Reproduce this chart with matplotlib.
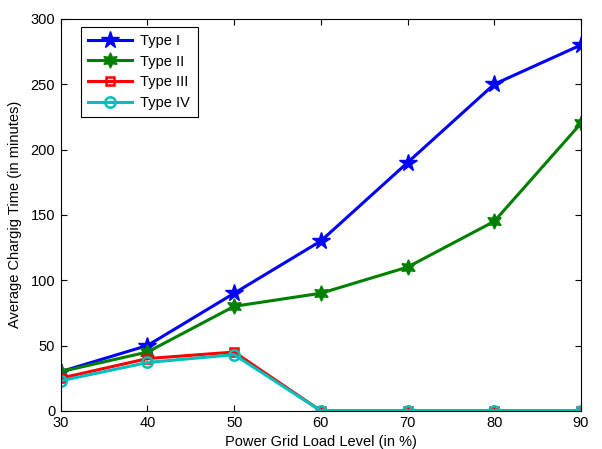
import numpy as np
import matplotlib.pyplot as plt

plt.rcParams["font.family"] = ["Liberation Sans", "DejaVu Sans"]
plt.rcParams["font.size"] = 10.5

load = [30, 40, 50, 60, 70, 80, 90]
type1 = [30, 50, 90, 130, 190, 250, 280]
type2 = [30, 45, 80, 90, 110, 145, 220]
type3 = [25, 40, 45, 0, 0, 0, 0]
type4 = [23, 37, 43, 0, 0, 0, 0]
labels = ["Type I", "Type II", "Type III", "Type IV"]

fig = plt.figure(figsize=(6.02, 4.49), dpi=100)
ax = fig.add_axes([0.101, 0.085, 0.864, 0.873])

ax.plot(load, type1, color=(0, 0, 1), lw=2.2, marker="*", ms=13,
        label=labels[0])
ax.plot(load, type2, color=(0, 0.5, 0), lw=2.2, marker=(6, 1, 0), ms=11,
        label=labels[1])
ax.plot(load, type3, color=(1, 0, 0), lw=2.2, marker="s", ms=6,
        mfc="none", mew=1.8, label=labels[2])
ax.plot(load, type4, color=(0, 0.75, 0.75), lw=2.2, marker="o", ms=7.5,
        mfc="none", mew=1.8, label=labels[3])

ax.set_xlim(30, 90)
ax.set_ylim(0, 300)
ax.set_xticks(np.arange(30, 91, 10))
ax.set_yticks(np.arange(0, 301, 50))
ax.tick_params(direction="in", top=True, right=True, length=4, pad=4)
ax.set_xlabel("Power Grid Load Level (in %)", labelpad=3)
ax.set_ylabel("Average Chargig Time (in minutes)", labelpad=6)

leg = ax.legend(loc="upper left", bbox_to_anchor=(0.038, 0.98),
                borderaxespad=0, fancybox=False, edgecolor="black",
                framealpha=1, handlelength=3, borderpad=0.5,
                labelspacing=0.45, handletextpad=0.6)
leg.get_frame().set_linewidth(0.8)

fig.savefig("out.png", dpi=100)
